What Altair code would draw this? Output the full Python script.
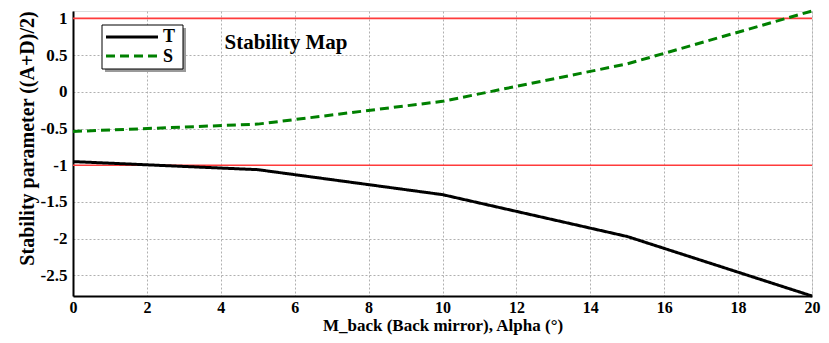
import altair as alt
import pandas as pd

# ---- data ----
alpha = [0, 5, 10, 15, 20]
t_vals = [-0.95, -1.06, -1.40, -1.97, -2.78]
s_vals = [-0.54, -0.44, -0.13, 0.38, 1.10]
series_names = ["T", "S"]
series_colors = ["black", "#008000"]
limits = [1, -1]
x_ticks = [0, 2, 4, 6, 8, 10, 12, 14, 16, 18, 20]
y_ticks = [-2.5, -2, -1.5, -1, -0.5, 0, 0.5, 1]

rows = []
for name, vals in zip(series_names, [t_vals, s_vals]):
    for a, v in zip(alpha, vals):
        rows.append({"alpha": a, "value": v, "series": name})
df = pd.DataFrame(rows)
lim_df = pd.DataFrame({"y": limits})

FONT = "Liberation Serif"

xscale = alt.Scale(domain=[0, 20], nice=False, zero=False)
yscale = alt.Scale(domain=[-2.78, 1.1], nice=False, zero=False)

common = dict(labelFont=FONT, labelFontWeight="bold", labelColor="black",
              titleFont=FONT, titleFontWeight="bold", titleColor="black",
              grid=True, gridColor="#b0b0b0", gridDash=[2, 2], gridWidth=1,
              domainColor="black", domainWidth=2, ticks=False, labelFlush=False)

xaxis = alt.Axis(values=x_ticks, title="M_back (Back mirror), Alpha (°)",
                 labelFontSize=16, titleFontSize=17, labelPadding=3, titleY=34,
                 titleBaseline="alphabetic", **common)
yaxis = alt.Axis(values=y_ticks, title="Stability parameter ((A+D)/2)",
                 labelExpr="datum.value + ''", labelFontSize=17, titleFontSize=20,
                 labelPadding=6, titlePadding=3, titleY=127, **common)

# legend box (drawn as marks)
one = pd.DataFrame({"a": [0]})
shadow = alt.Chart(one).mark_rect(color="#9a9a9a").encode(
    x=alt.value(32), x2=alt.value(113), y=alt.value(17), y2=alt.value(61))
box = alt.Chart(one).mark_rect(fill="white", stroke="black", strokeWidth=1).encode(
    x=alt.value(29), x2=alt.value(110), y=alt.value(14), y2=alt.value(58))
leg_t = alt.Chart(one).mark_rule(color=series_colors[0], strokeWidth=3).encode(
    x=alt.value(33), x2=alt.value(85), y=alt.value(26))
leg_s = alt.Chart(one).mark_rule(color=series_colors[1], strokeWidth=3, strokeDash=[9, 5]).encode(
    x=alt.value(33), x2=alt.value(85), y=alt.value(45))
leg_lab_t = alt.Chart(one).mark_text(font=FONT, fontSize=18, fontWeight="bold", color="black",
                                     align="left", baseline="middle", text=series_names[0]).encode(
    x=alt.value(90), y=alt.value(26))
leg_lab_s = alt.Chart(one).mark_text(font=FONT, fontSize=18, fontWeight="bold", color="black",
                                     align="left", baseline="middle", text=series_names[1]).encode(
    x=alt.value(90), y=alt.value(46))

red = alt.Chart(lim_df).mark_rule(color="#ff3b3b", strokeWidth=1.6).encode(
    y=alt.Y("y:Q", scale=yscale, axis=yaxis)
)

lines = alt.Chart(df).mark_line(strokeWidth=3).encode(
    x=alt.X("alpha:Q", scale=xscale, axis=xaxis),
    y=alt.Y("value:Q", scale=yscale, axis=yaxis),
    color=alt.Color("series:N", scale=alt.Scale(domain=series_names, range=series_colors), legend=None),
    strokeDash=alt.StrokeDash("series:N", scale=alt.Scale(domain=series_names, range=[[1, 0], [9, 5]]),
                              legend=None),
)

title = alt.Chart(pd.DataFrame({"t": ["Stability Map"]})).mark_text(
    font=FONT, fontSize=21, fontWeight="bold", color="black", align="center", baseline="middle"
).encode(x=alt.value(213), y=alt.value(32), text="t:N")

chart = alt.layer(red, lines, shadow, box, leg_t, leg_s, leg_lab_t, leg_lab_s, title).properties(
    width=739, height=285,
    autosize=alt.AutoSizeParams(type="none"),
    padding={"left": 65, "top": 3, "right": 9, "bottom": 39},
).configure_view(stroke="#555555", strokeWidth=2).configure(background="white").configure_axis(
    labelFont=FONT, titleFont=FONT)

chart.save("out.html", embed_options={"renderer": "svg", "actions": False})
